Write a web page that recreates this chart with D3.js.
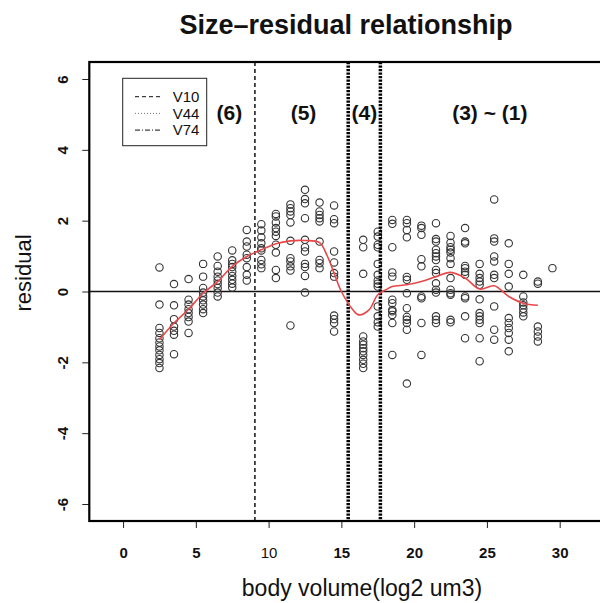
<!DOCTYPE html>
<html>
<head>
<meta charset="utf-8">
<script src="https://cdn.jsdelivr.net/npm/d3@7"></script>
<style>
  body { margin: 0; background: #fff; }
  text { font-family: "Liberation Sans", Arial, sans-serif; fill: #111; }
</style>
</head>
<body>
<div id="chart"></div>
<script>
// body volume bins (log2 um3) and the residuals found at each
const volumeBins = [2.5, 3.5, 4.5, 5.5, 6.5, 7.5, 8.5, 9.5, 10.5, 11.5, 12.5, 13.5, 14.5,
  16.5, 17.5, 18.5, 19.5, 20.5, 21.5, 22.5, 23.5, 24.5, 25.5, 26.5, 27.5, 28.5, 29.5]
const residuals = [
  [0.68, -0.37, -1.03, -1.17, -1.32, -1.44, -1.55, -1.66, -1.79, -1.91, -2.02, -2.16],
  [0.21, -0.39, -0.78, -0.99, -1.11, -1.22, -1.77],
  [0.35, -0.23, -0.37, -0.50, -0.61, -0.72, -0.85, -1.17],
  [0.78, 0.42, 0.10, -0.03, -0.14, -0.25, -0.37, -0.50, -0.61],
  [0.99, 0.72, 0.56, 0.42, 0.31, 0.21, 0.10, -0.03, -0.14],
  [1.16, 0.88, 0.78, 0.69, 0.56, 0.44, 0.33, 0.22, 0.11],
  [1.74, 1.41, 1.27, 1.04, 0.94, 0.69, 0.47, 0.31],
  [1.90, 1.72, 1.53, 1.36, 1.22, 1.16, 0.89, 0.77, 0.66],
  [2.19, 2.12, 1.95, 1.79, 1.69, 1.57, 1.32, 1.10, 0.61, 0.38],
  [2.46, 2.35, 2.26, 2.16, 1.95, 1.43, 0.94, 0.85, 0.71, 0.59, -0.96],
  [2.87, 2.61, 2.49, 2.07, 1.46, 1.25, 1.13, 0.78, 0.69, 0.44, -0.03],
  [2.51, 2.26, 2.16, 2.07, 1.98, 1.41, 0.89, 0.80, 0.66],
  [2.43, 2.04, 1.93, 1.13, 0.82, 0.52, 0.42, -0.68, -0.78, -0.89, -1.13],
  [1.46, 1.25, 0.50, -1.27, -1.41, -1.50, -1.60, -1.69, -1.79, -1.93, -2.04, -2.16],
  [1.69, 1.55, 1.32, 1.25, 0.78, 0.47, 0.31, 0.22, 0.14, -0.42, -0.70, -0.87, -0.99],
  [2.02, 1.91, 1.25, 0.54, 0.42, -0.23, -0.33, -0.52, -0.56, -0.66, -0.89, -1.79],
  [2.02, 1.93, 1.74, 1.53, 0.41, 0.33, -0.05, -0.47, -0.72, -0.80, -0.89, -1.08, -2.60],
  [1.86, 1.79, 1.60, 0.91, 0.71, -0.14, -0.19, -0.89, -1.79],
  [1.93, 1.48, 1.41, 1.18, 1.08, 0.99, 0.89, 0.61, 0.52, 0.23, 0.05, -0.03, -0.70, -0.80, -0.89],
  [1.57, 1.38, 1.25, 1.18, 1.10, 0.94, 0.78, 0.38, 0.05, -0.05, -0.09, -0.80, -0.87],
  [1.79, 1.41, 1.36, 0.72, 0.66, 0.56, 0.47, -0.14, -0.19, -0.70, -1.32],
  [0.78, 0.50, 0.38, 0.28, 0.19, -0.22, -0.61, -0.70, -0.80, -0.89, -1.32, -1.97],
  [2.60, 1.50, 1.41, 0.99, 0.85, 0.47, 0.38, -0.42, -1.08, -1.36],
  [1.36, 0.78, 0.50, 0.14, -0.75, -0.89, -1.03, -1.17, -1.36, -1.69],
  [0.47, -0.14, -0.31, -0.39, -0.49, -0.59, -0.70],
  [0.28, 0.22, -0.99, -1.13, -1.27, -1.41],
  [0.66]
]

// lowess trend (red)
const lowessX = [2.5, 3.5, 4.5, 5.5, 6.5, 7.5, 8.5, 9.5, 10.5, 11.5, 12.5, 13.5, 14.0, 14.5,
  15.0, 15.8, 16.2, 16.9, 17.5, 18.1, 18.5, 19.5, 20.5, 21.5, 22.5, 23.5, 24.5, 25.5, 26.5, 27.5, 28.5]
const lowessY = [-1.36, -0.89, -0.50, -0.05, 0.28, 0.71, 0.99, 1.18, 1.35, 1.43, 1.44, 1.38, 1.03, 0.52,
  0.0, -0.52, -0.66, -0.52, -0.09, 0.06, 0.14, 0.19, 0.28, 0.42, 0.54, 0.38, 0.07, 0.16, -0.14, -0.33, -0.39]

// cut points and legend
const cutNames = ["V10", "V44", "V44"]
const cutX = [9.06, 15.47, 17.68]
const legendNames = ["V10", "V44", "V74"]
const regionLabels = ["(6)", "(5)", "(4)", "(3) ~ (1)"]
const regionX = [7.3, 12.4, 16.58, 25.2]

const xTicks = [0, 5, 10, 15, 20, 25, 30]
const yTicks = [-6, -4, -2, 0, 2, 4, 6]

const dash = { V10: "4,3", V44: "2.2,1.3", V74: "6,2,1.5,2" }

const width = 600
const height = 603
const plot = { left: 89.3, right: 608, top: 62, bottom: 521 }

const svg = d3.select("#chart").append("svg")
  .attr("width", width)
  .attr("height", height)

const xScale = d3.scaleLinear().domain([-2.32, 33.32]).range([plot.left, plot.right])
const yScale = d3.scaleLinear().domain([-6.48, 6.48]).range([plot.bottom, plot.top])

// Title
svg.append("text")
  .attr("x", 346)
  .attr("y", 34)
  .attr("text-anchor", "middle")
  .style("font-size", "27px")
  .style("font-weight", "bold")
  .text("Size\u2013residual relationship")

// Axes
const xAxis = svg.append("g")
  .attr("transform", `translate(0,${plot.bottom})`)
  .call(d3.axisBottom(xScale).tickValues(xTicks).tickSize(7).tickFormat(d3.format("d")))
xAxis.select(".domain").remove()
xAxis.selectAll("line").attr("stroke", "#222")
xAxis.selectAll("text")
  .attr("y", 37).attr("dy", 0)
  .attr("fill", "#111")
  .style("font-size", "15px")
  .style("font-weight", d => d === 10 ? "normal" : "bold")
  .style("font-family", "'Liberation Sans', Arial, sans-serif")

const yAxis = svg.append("g")
  .attr("transform", `translate(${plot.left},0)`)
  .call(d3.axisLeft(yScale).tickValues(yTicks).tickSize(7).tickFormat(d3.format("d")))
yAxis.select(".domain").remove()
yAxis.selectAll("line").attr("stroke", "#222")
yAxis.selectAll("text")
  .text(d => String(d))
  .attr("transform", "rotate(-90)")
  .attr("x", 0).attr("y", -21).attr("dy", 0)
  .attr("text-anchor", "middle")
  .attr("fill", "#111")
  .style("font-size", "15px")
  .style("font-weight", "bold")
  .style("font-family", "'Liberation Sans', Arial, sans-serif")

// Axis titles
svg.append("text")
  .attr("x", 362)
  .attr("y", 596)
  .attr("text-anchor", "middle")
  .style("font-size", "23px")
  .text("body volume(log2 um3)")

svg.append("text")
  .attr("transform", "translate(31,273) rotate(-90)")
  .attr("text-anchor", "middle")
  .style("font-size", "22px")
  .text("residual")

// Zero line
svg.append("line")
  .attr("x1", plot.left).attr("x2", plot.right)
  .attr("y1", yScale(0)).attr("y2", yScale(0))
  .attr("stroke", "#111").attr("stroke-width", 1.5)

// Points
const points = volumeBins.flatMap((v, i) => residuals[i].map(r => ({ v, r })))
svg.append("g").selectAll("circle")
  .data(points)
  .join("circle")
    .attr("cx", d => xScale(d.v))
    .attr("cy", d => yScale(d.r))
    .attr("r", 3.7)
    .attr("fill", "none")
    .attr("stroke", "#333")
    .attr("stroke-width", 1.1)

// Cut lines
svg.append("g").selectAll("line")
  .data(cutX)
  .join("line")
    .attr("x1", d => xScale(d)).attr("x2", d => xScale(d))
    .attr("y1", plot.top).attr("y2", plot.bottom)
    .attr("stroke", "#000")
    .attr("stroke-width", (d, i) => cutNames[i] === "V10" ? 1.4 : 3.5)
    .attr("stroke-dasharray", (d, i) => dash[cutNames[i]])

// Lowess curve
const line = d3.line()
  .x((d, i) => xScale(lowessX[i]))
  .y(d => yScale(d))
  .curve(d3.curveCatmullRom)
svg.append("path")
  .attr("d", line(lowessY))
  .attr("fill", "none")
  .attr("stroke", "#e8474a")
  .attr("stroke-width", 1.6)

// Region labels
svg.append("g").selectAll("text")
  .data(regionLabels)
  .join("text")
    .attr("x", (d, i) => xScale(regionX[i]))
    .attr("y", 120)
    .attr("text-anchor", "middle")
    .style("font-size", "21px")
    .style("font-weight", "bold")
    .text(d => d)

// Legend
const legend = svg.append("g")
legend.append("rect")
  .attr("x", 122.7).attr("y", 78.3)
  .attr("width", 84).attr("height", 67.4)
  .attr("fill", "#fff").attr("stroke", "#222").attr("stroke-width", 1)
legendNames.forEach((name, i) => {
  const cy = 96.7 + i * 16.7
  legend.append("line")
    .attr("x1", 135).attr("x2", 160)
    .attr("y1", cy).attr("y2", cy)
    .attr("stroke", name === "V44" ? "#777" : "#111")
    .attr("stroke-width", 1)
    .attr("stroke-dasharray", name === "V10" ? "4,3" : name === "V44" ? "1,2" : "5,2,1,2")
  legend.append("text")
    .attr("x", 172.7).attr("y", cy + 5.2)
    .style("font-size", "15px")
    .text(name)
})

// Plot box
svg.append("rect")
  .attr("x", plot.left).attr("y", plot.top)
  .attr("width", plot.right - plot.left).attr("height", plot.bottom - plot.top)
  .attr("fill", "none").attr("stroke", "#000").attr("stroke-width", 2.2)
</script>
</body>
</html>
